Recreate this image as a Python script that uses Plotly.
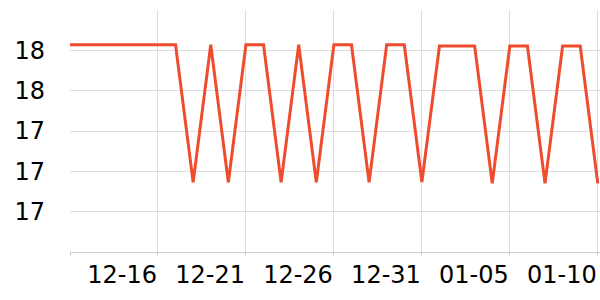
import plotly.graph_objects as go

dates = ["2023-12-11", "2023-12-12", "2023-12-13", "2023-12-14", "2023-12-15",
         "2023-12-16", "2023-12-17", "2023-12-18", "2023-12-19", "2023-12-20",
         "2023-12-21", "2023-12-22", "2023-12-23", "2023-12-24", "2023-12-25",
         "2023-12-26", "2023-12-27", "2023-12-28", "2023-12-29", "2023-12-30",
         "2023-12-31", "2024-01-01", "2024-01-02", "2024-01-03", "2024-01-04",
         "2024-01-05", "2024-01-06", "2024-01-07", "2024-01-08", "2024-01-09",
         "2024-01-10"]
values = [17.828, 17.828, 17.828, 17.828, 17.828,
          17.828, 17.828, 17.145, 17.828, 17.145,
          17.828, 17.828, 17.145, 17.828, 17.145,
          17.828, 17.828, 17.145, 17.828, 17.828,
          17.147, 17.821, 17.821, 17.821, 17.140,
          17.821, 17.821, 17.140, 17.821, 17.821,
          17.140]

x_tickvals = ["2023-12-11", "2023-12-16", "2023-12-21", "2023-12-26",
              "2023-12-31", "2024-01-05", "2024-01-10"]
x_ticktext = ["", "12-16", "12-21", "12-26", "12-31", "01-05", "01-10"]
y_tickvals = [17.0, 17.2, 17.4, 17.6, 17.8]

fig = go.Figure()
fig.add_trace(go.Scatter(
    x=dates, y=values, mode="lines",
    line=dict(color="#EF4B2D", width=3),
    hoverinfo="skip",
))

fig.update_layout(
    width=600, height=300,
    margin=dict(l=70, r=0, t=10, b=48),
    paper_bgcolor="white", plot_bgcolor="white",
    showlegend=False,
    font=dict(family="DejaVu Sans", size=24, color="#000000"),
)
fig.update_xaxes(
    range=["2023-12-11", "2024-01-10 03:00"],
    tickvals=x_tickvals, ticktext=x_ticktext,
    ticklabelposition="outside left",
    showgrid=True, gridcolor="#DDDDDD", gridwidth=1,
    showline=True, linecolor="#CCCCCC", linewidth=1,
    ticks="outside", ticklen=3, tickcolor="#CCCCCC",
    ticklabelstandoff=1,
    zeroline=False,
)
fig.update_yaxes(
    range=[16.8, 18.0],
    tickvals=y_tickvals, tickformat=".0f",
    showgrid=True, gridcolor="#DDDDDD", gridwidth=1,
    showline=False, ticks="", ticklabelstandoff=24,
    zeroline=False,
)

fig.write_html("out.html")
